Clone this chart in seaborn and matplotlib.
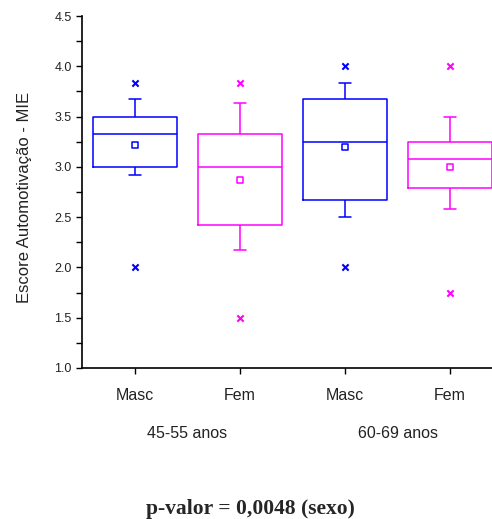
import numpy as np
import pandas as pd
import matplotlib
matplotlib.use("Agg")
import matplotlib.pyplot as plt
import matplotlib.transforms as mtransforms
from matplotlib.ticker import MultipleLocator, FormatStrFormatter
import seaborn as sns

# Groups (sex within age band)
grupo = ["M1", "F1", "M2", "F2"]
sexo = ["Masc", "Fem", "Masc", "Fem"]
faixa = ["45-55 anos", "45-55 anos", "60-69 anos", "60-69 anos"]

# Box summaries of the MIE self-motivation score
whis_lo = [2.92, 2.17, 2.50, 2.58]
q1 = [3.00, 2.42, 2.67, 2.79]
mediana = [3.33, 3.00, 3.25, 3.08]
q3 = [3.50, 3.33, 3.67, 3.25]
whis_hi = [3.67, 3.63, 3.83, 3.50]
media = [3.22, 2.87, 3.20, 3.00]
minimo = [2.00, 1.50, 2.00, 1.75]
maximo = [3.83, 3.83, 4.00, 4.00]

cores = {"Masc": "#0000FF", "Fem": "#FF00FF"}

sns.set_style("ticks")
plt.rcParams["font.family"] = ["Liberation Sans", "DejaVu Sans"]

# Five-number summary per group: with whiskers at the 0/100 percentiles the
# box edges land exactly on q1 / median / q3.
linhas = []
for g, a, b, c, d, e in zip(grupo, whis_lo, q1, mediana, q3, whis_hi):
    for v in (a, b, c, d, e):
        linhas.append({"grupo": g, "valor": v})
df = pd.DataFrame(linhas)
paleta = {g: cores[s] for g, s in zip(grupo, sexo)}

fig = plt.figure(figsize=(4.92, 5.19), dpi=100)
ax = fig.add_axes([82 / 492, 151 / 519, 420 / 492, 352 / 519])

sns.boxplot(data=df, x="grupo", y="valor", hue="grupo", order=grupo,
            hue_order=grupo, palette=paleta, fill=False, whis=(0, 100),
            showfliers=False, width=0.8, linewidth=1.1, legend=False,
            capwidths=0.11, ax=ax)

for s, cor in cores.items():
    idx = [i for i, v in enumerate(sexo) if v == s]
    gx = [grupo[i] for i in idx]
    # mean (open square)
    sns.stripplot(x=gx, y=[media[i] for i in idx], order=grupo, jitter=False,
                  marker="s", size=4, color="white", edgecolor=cor,
                  linewidth=1.1, ax=ax, zorder=5)
    # extremes (x)
    sns.stripplot(x=gx + gx, y=[minimo[i] for i in idx] + [maximo[i] for i in idx],
                  order=grupo, jitter=False, marker="x", size=4.5, color=cor,
                  edgecolor=cor, linewidth=1.5, ax=ax, zorder=5)

ax.set_xlim(-0.505, 3.495)
ax.set_ylim(1.0, 4.5)
ax.yaxis.set_major_locator(MultipleLocator(0.5))
ax.yaxis.set_minor_locator(MultipleLocator(0.25))
ax.yaxis.set_major_formatter(FormatStrFormatter("%.1f"))
ax.set_xticks(range(len(grupo)))
ax.set_xticklabels(sexo)
ax.tick_params(axis="y", which="major", direction="out", length=4.5,
               width=1, pad=3, labelsize=9, color="black", labelcolor="#222222")
ax.tick_params(axis="y", which="minor", direction="out", length=4.5, width=1,
               color="black")
ax.tick_params(axis="x", which="major", direction="out", length=4.5, width=1,
               pad=10, labelsize=11.5, color="black", labelcolor="#222222")
ax.set_xlabel("")
ax.set_ylabel("Escore Automotivação - MIE", fontsize=12, color="#222222")
ax.yaxis.set_label_coords(-0.12, 0.484)

for sp in ("top", "right"):
    ax.spines[sp].set_visible(False)
for sp in ("left", "bottom"):
    ax.spines[sp].set_color("black")
    ax.spines[sp].set_linewidth(1.2)

# Age-band labels centred under each pair
trans = mtransforms.blended_transform_factory(ax.transData, fig.transFigure)
for f in dict.fromkeys(faixa):
    pos = np.mean([i for i, v in enumerate(faixa) if v == f])
    ax.text(pos, 1 - 433 / 519, f, transform=trans, ha="center", va="center",
            fontsize=11.5, color="#222222")

fig.text(0.51, 1 - 509 / 519, "p-valor = 0,0048 (sexo)", ha="center",
         va="center", fontsize=15.5, fontweight="bold",
         family=["Liberation Serif", "DejaVu Serif"])

fig.savefig("out.png", dpi=100)
